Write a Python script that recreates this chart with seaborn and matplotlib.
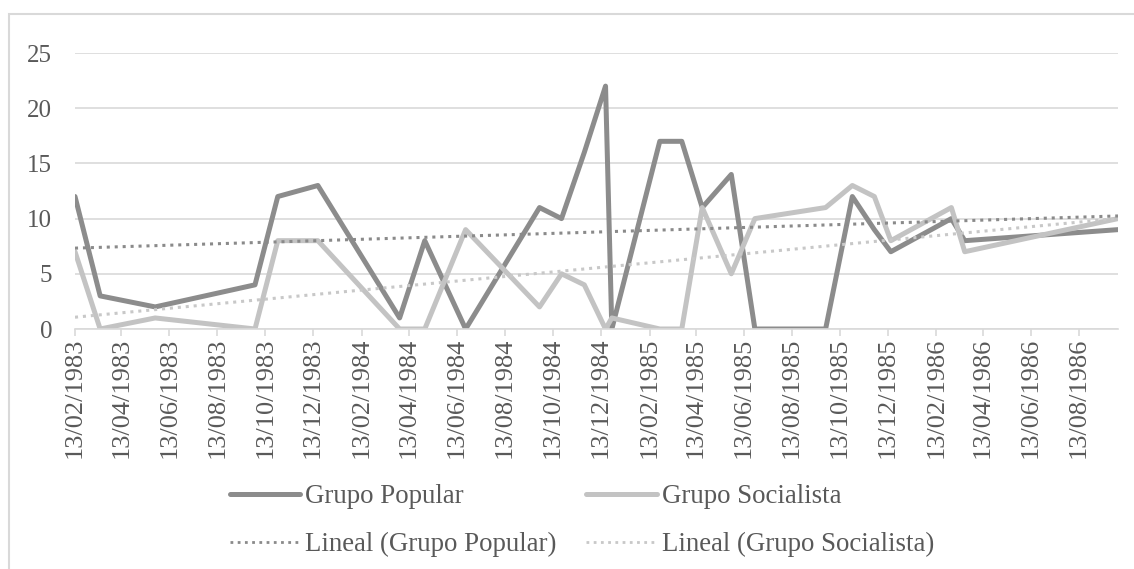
import numpy as np
import pandas as pd
import seaborn as sns
import matplotlib
matplotlib.use("Agg")
import matplotlib.pyplot as plt
import matplotlib.dates as mdates
from matplotlib.lines import Line2D
from matplotlib.patches import Rectangle

# fechas de las sesiones y numero de intervenciones por grupo
fechas = ["1983-02-13", "1983-03-17", "1983-05-26", "1983-09-30", "1983-10-29",
          "1983-12-19", "1984-04-01", "1984-05-03", "1984-06-24", "1984-09-26",
          "1984-10-24", "1984-11-22", "1984-12-19", "1984-12-27", "1985-02-26",
          "1985-03-26", "1985-04-21", "1985-05-28", "1985-06-27", "1985-09-25",
          "1985-10-29", "1985-11-26", "1985-12-17", "1986-03-04", "1986-03-21",
          "1986-10-02"]
popular = [12, 3, 2, 4, 12, 13, 1, 8, 0, 11, 10, 16, 22, 0, 17,
           17, 11, 14, 0, 0, 12, 9, 7, 10, 8, 9]
socialista = [7, 0, 1, 0, 8, 8, 0, 0, 9, 2, 5, 4, 0, 1, 0,
              0, 11, 5, 10, 11, 13, 12, 8, 11, 7, 10]
y_ticks = [0, 5, 10, 15, 20, 25]

c_pop = "#8c8c8c"
c_soc = "#c3c3c3"
c_txt = "#595959"
c_grid = "#d9d9d9"

df = pd.DataFrame({"fecha": pd.to_datetime(fechas),
                   "Grupo Popular": popular,
                   "Grupo Socialista": socialista})
df["num"] = mdates.date2num(df["fecha"])

sns.set_style("white")
plt.rcParams["font.family"] = ["Liberation Serif", "DejaVu Serif"]

fig = plt.figure(figsize=(11.34, 5.69), dpi=100)
ax = fig.add_axes([75 / 1134, 1 - 329 / 569, (1118 - 75) / 1134, (329 - 53) / 569])

sns.lineplot(data=df, x="fecha", y="Grupo Popular", ax=ax, color=c_pop, lw=3.6)
sns.lineplot(data=df, x="fecha", y="Grupo Socialista", ax=ax, color=c_soc, lw=3.6)
sns.regplot(data=df, x="num", y="Grupo Popular", ax=ax, scatter=False, ci=None,
            line_kws=dict(color="#8a8a8a", lw=2.2, ls=(0, (1, 1.6))))
sns.regplot(data=df, x="num", y="Grupo Socialista", ax=ax, scatter=False, ci=None,
            line_kws=dict(color="#c8c8c8", lw=2.2, ls=(0, (1, 1.6))))

ax.set_xlim(df["fecha"].min(), df["fecha"].max())
ax.set_ylim(0, 25)
ax.set_yticks(y_ticks)
ax.set_xlabel("")
ax.set_ylabel("")
ax.xaxis.set_major_locator(mdates.MonthLocator(bymonth=[2, 4, 6, 8, 10, 12], bymonthday=13))
ax.xaxis.set_major_formatter(mdates.DateFormatter("%d/%m/%Y"))
ax.yaxis.grid(True, color=c_grid, lw=1.2)
ax.set_axisbelow(True)
for s in ["top", "right", "left"]:
    ax.spines[s].set_visible(False)
ax.spines["bottom"].set_color(c_grid)
ax.spines["bottom"].set_linewidth(1.2)
ax.tick_params(axis="x", bottom=True, length=5, width=1.2, color=c_grid,
               labelsize=19, labelcolor=c_txt, rotation=90, pad=1)
ax.tick_params(axis="y", left=False, labelsize=18, labelcolor=c_txt, pad=13)

handles = [Line2D([], [], color=c_pop, lw=3.6),
           Line2D([], [], color="#8a8a8a", lw=2, ls=(0, (1, 1.6))),
           Line2D([], [], color=c_soc, lw=3.6),
           Line2D([], [], color="#c8c8c8", lw=2, ls=(0, (1, 1.6)))]
labels = ["Grupo Popular", "Lineal (Grupo Popular)",
          "Grupo Socialista", "Lineal (Grupo Socialista)"]
fig.legend(handles, labels, ncol=2, loc="upper left",
           bbox_to_anchor=(230 / 1134, 1 - 484 / 569), frameon=False,
           fontsize=19.4, labelcolor=c_txt, handlelength=2.6, handletextpad=0.2,
           columnspacing=1.1, labelspacing=0.85, borderpad=0, borderaxespad=0)

fig.patches.append(Rectangle((9 / 1134, -0.1), 1.2, 1 - 14 / 569 + 0.1,
                             transform=fig.transFigure, fill=False,
                             edgecolor=c_grid, lw=1.5))

plt.savefig("out.png", dpi=100)
